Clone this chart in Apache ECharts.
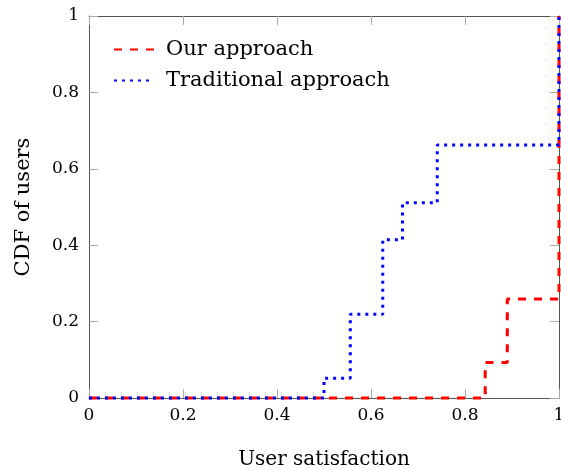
<!DOCTYPE html>
<html>
<head>
<meta charset="utf-8">
<script src="https://cdn.jsdelivr.net/npm/echarts@6/dist/echarts.min.js"></script>
<style>
  html, body { margin: 0; padding: 0; background: #fff; }
  #chart { width: 561px; height: 470px; }
</style>
</head>
<body>
<div id="chart"></div>
<script>
// Step CDF of user satisfaction for two approaches
const seriesNames = ['Our approach', 'Traditional approach'];

const oursX = [0, 0.843, 0.890, 1.0, 1.0];
const oursY = [0, 0.093, 0.259, 0.259, 1.0];

const tradX = [0, 0.500, 0.556, 0.625, 0.667, 0.741, 1.0, 1.0];
const tradY = [0, 0.052, 0.219, 0.414, 0.511, 0.662, 0.662, 1.0];

const xTicks = [0, 0.2, 0.4, 0.6, 0.8, 1];
const yTicks = [0, 0.2, 0.4, 0.6, 0.8, 1];

const font = 'DejaVu Serif';

function pairs(xs, ys) {
  return xs.map((x, i) => [x, ys[i]]);
}

const chart = echarts.init(document.getElementById('chart'), null, { renderer: 'canvas' });

const frame = { show: true, onZero: false, lineStyle: { color: '#555', width: 1 } };
const ticks = { show: true, inside: true, length: 9, lineStyle: { color: '#aaa', width: 1 } };

chart.setOption({
  animation: false,
  grid: { left: 89, right: 2, top: 16, bottom: 72, containLabel: false, outerBoundsMode: 'none' },
  legend: {
    left: 108, top: 34, orient: 'vertical', itemGap: 10,
    itemWidth: 40, itemHeight: 14,
    itemStyle: { opacity: 0 },
    textStyle: { fontFamily: font, fontSize: 21, color: '#000', padding: [0, 0, 0, 7] },
    data: seriesNames
  },
  xAxis: [{
    type: 'value', min: xTicks[0], max: xTicks[xTicks.length - 1], interval: 0.2,
    name: 'User satisfaction', nameLocation: 'middle', nameGap: 52,
    nameTextStyle: { fontFamily: font, fontSize: 20, color: '#000' },
    axisLine: frame, axisTick: ticks, splitLine: { show: false },
    axisLabel: { fontFamily: font, fontSize: 17, color: '#000', margin: 9 }
  }, {
    type: 'value', position: 'top', min: 0, max: 1, interval: 0.2,
    axisLine: frame, axisTick: ticks, splitLine: { show: false },
    axisLabel: { show: false }
  }],
  yAxis: [{
    type: 'value', min: yTicks[0], max: yTicks[yTicks.length - 1], interval: 0.2,
    name: 'CDF of users', nameLocation: 'middle', nameGap: 55,
    nameTextStyle: { fontFamily: font, fontSize: 21, color: '#000' },
    axisLine: frame, axisTick: ticks, splitLine: { show: false },
    axisLabel: { fontFamily: font, fontSize: 17, color: '#000', margin: 10 }
  }, {
    type: 'value', position: 'right', min: 0, max: 1, interval: 0.2,
    axisLine: frame, axisTick: ticks, splitLine: { show: false },
    axisLabel: { show: false }
  }],
  series: [{
    name: seriesNames[0], type: 'line', step: 'end', symbol: 'none', clip: false,
    data: pairs(oursX, oursY),
    itemStyle: { color: '#ff0000' },
    lineStyle: { color: '#ff0000', width: 3, type: [8, 8] }
  }, {
    name: seriesNames[1], type: 'line', step: 'end', symbol: 'none', clip: false,
    data: pairs(tradX, tradY),
    itemStyle: { color: '#0000ff' },
    lineStyle: { color: '#0000ff', width: 3, type: [3, 5] }
  }]
});
</script>
</body>
</html>
